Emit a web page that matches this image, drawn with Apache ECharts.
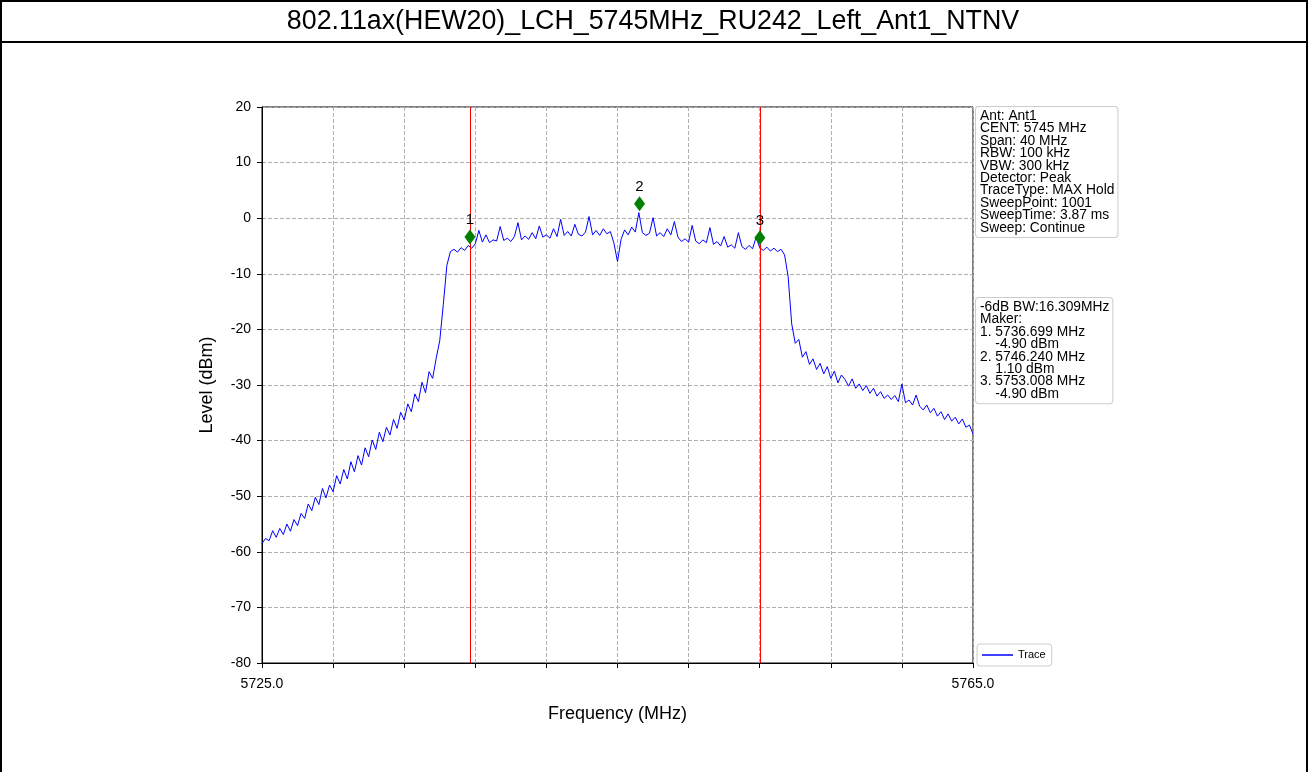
<!DOCTYPE html>
<html>
<head>
<meta charset="utf-8">
<script src="https://cdn.jsdelivr.net/npm/echarts@6/dist/echarts.min.js"></script>
<style>
  html, body { margin: 0; padding: 0; background: #fff; }
  #main { width: 1308px; height: 772px; }
</style>
</head>
<body>
<div id="main"></div>
<script>
const FONT = '"Liberation Sans", Arial, sans-serif';

const chartTitle = '802.11ax(HEW20)_LCH_5745MHz_RU242_Left_Ant1_NTNV';

// trace: one reading every 0.2 MHz from 5725.0 to 5765.0 MHz
const freqStart = 5725;
const freqStep = 0.2;
const levels = [
  -58.5, -57.6, -58.0, -56.2, -57.4,
  -55.8, -56.9, -55.0, -56.3, -54.2,
  -55.3, -53.1, -54.0, -51.4, -52.6,
  -50.2, -51.5, -48.6, -50.3, -48.0,
  -49.2, -46.3, -47.8, -45.2, -46.9,
  -43.8, -45.6, -42.7, -44.4, -41.3,
  -42.9, -39.9, -41.6, -38.5, -40.2,
  -37.6, -39.0, -36.2, -37.8, -34.9,
  -36.3, -33.4, -34.8, -31.6, -33.0,
  -29.5, -31.4, -27.6, -28.8, -25.2,
  -22.0, -15.5, -8.5, -6.0, -5.6,
  -6.1, -5.3, -5.8, -4.9, -5.4,
  // 5737
  -4.6, -2.2, -4.3, -3.0, -4.4,
  -3.9, -4.1, -1.5, -4.0, -3.6,
  -4.2, -3.3, -0.8, -3.9, -3.2,
  -3.8, -2.6, -3.7, -1.4, -3.4,
  -3.0, -3.6, -1.9, -3.3, -0.2,
  -3.1, -2.4, -3.2, -1.1, -2.9,
  -3.2, -2.5, 0.3, -3.0, -2.2,
  -3.1, -1.9, -2.8, -2.4, -4.5,
  -7.8, -3.8, -2.1, -3.0, -1.6,
  -2.5, 1.0, -2.6, -3.1, -2.7,
  0.1, -3.2, -2.6, -3.3, -1.9,
  -3.0, -0.6, -3.4, -4.2, -3.7,
  -4.3, -1.3, -4.1, -4.6, -3.9,
  -4.4, -1.7, -4.7, -4.2, -5.0,
  -3.3, -5.2, -4.8, -5.4, -2.6,
  -5.1, -5.6, -4.9, -5.5, -3.4,
  -5.3, -5.8, -5.2, -5.9, -5.4,
  -6.0, -5.6, -6.6, -10.5, -19.0,
  // 5755
  -22.5, -21.8, -25.0, -24.0, -26.3,
  -25.3, -27.2, -26.1, -28.0, -26.7,
  -28.8, -27.5, -29.6, -28.2, -29.0,
  -30.2, -28.9, -30.6, -29.8, -31.0,
  -30.1, -31.5, -30.6, -32.0, -31.2,
  -32.4, -31.8, -32.6, -31.9, -33.0,
  -29.8, -33.2, -32.7, -33.6, -31.8,
  -33.8, -34.5, -33.6, -35.0, -34.2,
  -35.6, -34.8, -36.2, -35.2, -36.5,
  -35.8, -37.0, -36.1, -37.6, -37.2,
  -38.8
];

// -6 dB bandwidth edges (red lines)
const bwEdges = [5736.699, 5753.008];

// marker diamonds as drawn
const markerNames = ['1', '2', '3'];
const markerFreqs = [5736.699, 5746.240, 5753.008];
const markerLevels = [-3.4, 2.6, -3.5];

const xLabelValues = [5725, 5765];

const setupLines = [
  'Ant: Ant1',
  'CENT: 5745 MHz',
  'Span: 40 MHz',
  'RBW: 100 kHz',
  'VBW: 300 kHz',
  'Detector: Peak',
  'TraceType: MAX Hold',
  'SweepPoint: 1001',
  'SweepTime: 3.87 ms',
  'Sweep: Continue'
];

const resultLines = [
  '-6dB BW:16.309MHz',
  'Maker:',
  '1. 5736.699 MHz',
  '    -4.90 dBm',
  '2. 5746.240 MHz',
  '    1.10 dBm',
  '3. 5753.008 MHz',
  '    -4.90 dBm'
];

const traceData = levels.map((v, i) => [+(freqStart + i * freqStep).toFixed(1), v]);
const markerData = markerNames.map((n, i) => ({ name: n, value: [markerFreqs[i], markerLevels[i]] }));

const chart = echarts.init(document.getElementById('main'), null, { renderer: 'canvas' });

const boxStyle = {
  font: '13.8px ' + FONT,
  lineHeight: 12.4,
  fill: '#000',
  backgroundColor: '#fff',
  borderColor: '#cccccc',
  borderWidth: 1,
  borderRadius: 3,
  padding: [3, 3, 3, 4]
};

const option = {
  backgroundColor: '#ffffff',
  animation: false,
  textStyle: { fontFamily: FONT },
  grid: {
    left: 262,
    top: 107,
    width: 711,
    height: 556,
    show: true,
    borderColor: '#000',
    borderWidth: 1,
    containLabel: false
  },
  legend: {
    data: [{ name: 'Trace', icon: 'rect' }],
    left: 977,
    top: 644,
    orient: 'vertical',
    itemWidth: 31,
    itemHeight: 1.5,
    padding: [5, 6, 5, 5],
    borderColor: '#cccccc',
    borderWidth: 1,
    borderRadius: 3,
    backgroundColor: '#fff',
    textStyle: { fontSize: 11, color: '#000', fontFamily: FONT, lineHeight: 12 }
  },
  xAxis: {
    type: 'value',
    min: 5725,
    max: 5765,
    interval: 4,
    name: 'Frequency (MHz)',
    nameLocation: 'middle',
    nameGap: 42,
    nameTextStyle: { fontSize: 18, color: '#000', fontFamily: FONT },
    axisLine: { show: true, onZero: false, lineStyle: { color: '#000', width: 1 } },
    axisTick: { show: true, inside: false, length: 5, lineStyle: { color: '#000' } },
    axisLabel: {
      color: '#000',
      fontSize: 14,
      margin: 14,
      showMinLabel: true,
      showMaxLabel: true,
      formatter: v => xLabelValues.includes(Math.round(v)) ? v.toFixed(1) : ''
    },
    splitLine: { show: true, lineStyle: { color: '#b0b0b0', type: [4, 2], width: 1 } }
  },
  yAxis: {
    type: 'value',
    min: -80,
    max: 20,
    interval: 10,
    name: 'Level (dBm)',
    nameLocation: 'middle',
    nameGap: 46,
    nameRotate: 90,
    nameTextStyle: { fontSize: 18, color: '#000', fontFamily: FONT },
    axisLine: { show: true, onZero: false, lineStyle: { color: '#000', width: 1 } },
    axisTick: { show: true, inside: false, length: 5, lineStyle: { color: '#000' } },
    axisLabel: { color: '#000', fontSize: 14, margin: 11 },
    splitLine: { show: true, lineStyle: { color: '#b0b0b0', type: [4, 2], width: 1 } }
  },
  series: [
    {
      name: 'Trace',
      type: 'line',
      data: traceData,
      symbol: 'none',
      showSymbol: false,
      lineStyle: { color: '#0000ff', width: 1 },
      itemStyle: { color: '#0000ff' },
      markLine: {
        silent: true,
        symbol: 'none',
        label: { show: false },
        lineStyle: { color: '#ff0000', width: 1, type: 'solid' },
        data: bwEdges.map(f => ({ xAxis: f }))
      },
      z: 2
    },
    {
      name: 'Markers',
      type: 'scatter',
      data: markerData,
      symbol: 'diamond',
      symbolSize: [11, 15],
      itemStyle: { color: '#007f00', opacity: 1 },
      label: {
        show: true,
        position: 'top',
        distance: 2,
        formatter: p => p.name,
        color: '#000',
        fontSize: 15,
        fontFamily: FONT
      },
      z: 5
    }
  ],
  graphic: [
    {
      type: 'polyline',
      shape: { points: [[1, 772], [1, 1], [1307, 1], [1307, 772]] },
      style: { stroke: '#000', lineWidth: 2, fill: null },
      silent: true
    },
    {
      type: 'line',
      shape: { x1: 0, y1: 42, x2: 1308, y2: 42 },
      style: { stroke: '#000', lineWidth: 2 },
      silent: true
    },
    {
      type: 'text',
      x: 653,
      y: 22,
      style: {
        text: chartTitle,
        font: '26.8px ' + FONT,
        fill: '#000',
        align: 'center',
        verticalAlign: 'middle'
      },
      silent: true
    },
    {
      type: 'text',
      x: 976,
      y: 107,
      style: Object.assign({ text: setupLines.join('\n') }, boxStyle),
      silent: true
    },
    {
      type: 'text',
      x: 976,
      y: 298,
      style: Object.assign({ text: resultLines.join('\n') }, boxStyle),
      silent: true
    }
  ]
};

chart.setOption(option);
</script>
</body>
</html>
